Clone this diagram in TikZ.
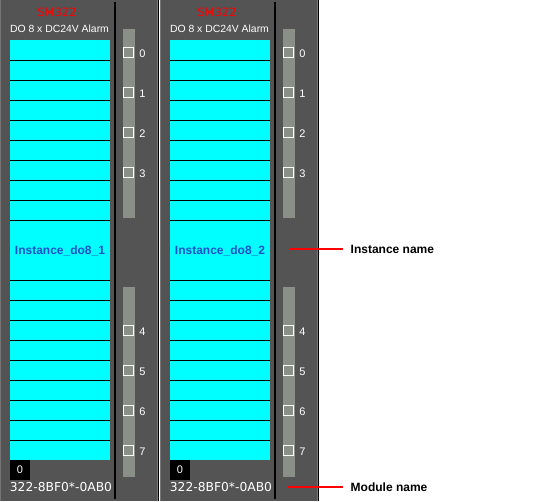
\documentclass[tikz,border=0pt]{standalone}
\usepackage{fontspec}
\setmainfont{Liberation Sans}
\newfontfamily\dejavu{DejaVu Sans}
\definecolor{modbg}{HTML}{545454}
\definecolor{stripgray}{HTML}{8A9088}
\definecolor{instblue}{HTML}{1E50C8}
\definecolor{edgelight}{HTML}{767676}
\definecolor{rowcyan}{HTML}{00FFFF}
\definecolor{pured}{HTML}{FF0000}
\tikzset{
  modtitle/.style={text=pured, inner sep=0pt, font=\dejavu\fontsize{11.5}{12}\selectfont},
  moddesc/.style={text=white, inner sep=0pt, font=\fontsize{10.4}{11}\selectfont},
  instname/.style={text=instblue, inner sep=0pt, anchor=base, font=\bfseries\fontsize{12}{13}\selectfont},
  chnum/.style={text=white, inner sep=0pt, anchor=base, font=\fontsize{11}{12}\selectfont},
  partno/.style={text=white, inner sep=0pt, anchor=base, font=\dejavu\fontsize{12.3}{13}\selectfont},
  slotbox/.style={fill=black, text=white, minimum width=20pt, minimum height=20pt, inner sep=0pt, font=\fontsize{11}{12}\selectfont},
  chkbox/.style={draw=white, line width=1.1pt, minimum width=10pt, minimum height=9.5pt, inner sep=0pt},
  callout/.style={anchor=west, inner xsep=7.5pt, inner ysep=0pt, font=\bfseries\fontsize{12}{13}\selectfont},
  redline/.style={draw=pured, line width=2pt}
}
\begin{document}
\begin{tikzpicture}[x=1pt,y=-1pt]
\useasboundingbox (0,0) rectangle (549,501);
\fill[white] (0,0) rectangle (549,501);
\foreach \o/\i in {0/1,160/2}{
  % module body
  \fill[modbg] (\o,0) rectangle (\o+159.4,501);
  \draw[edgelight, line width=1pt] (\o+0.5,0) -- (\o+0.5,501);
  \draw[edgelight, line width=1pt] (\o+157.5,0) -- (\o+157.5,501);
  \draw[black, line width=1.3pt] (\o+158.7,0) -- (\o+158.7,501);
  \draw[black, line width=2.2pt] (\o+114.6,2) -- (\o+114.6,499);
  % header
  \node[modtitle] (t\i) at (\o+57,12.5) {SM322};
  \node[moddesc] (d\i) at (\o+59.5,29) {DO 8 x DC24V Alarm};
  % channel rows
  \fill[rowcyan] (\o+10,40) rectangle (\o+110,460);
  \foreach \y in {60,80,...,220,280,300,...,440}{
    \draw[black, line width=1pt] (\o+10,\y) -- (\o+110,\y);
  }
  \node[instname] (n\i) at (\o+60,254) {Instance\_do8\_\i};
  % LED strips
  \fill[stripgray] (\o+122.7,29) rectangle (\o+135,218);
  \fill[stripgray] (\o+122.7,287) rectangle (\o+135,476.7);
  \foreach \k/\c in {0/52.5,1/92.5,2/132.5,3/172.5,4/330.5,5/370.5,6/410.5,7/450.5}{
    \node[chkbox] (b\i-\k) at (\o+128.8,\c) {};
    \node[chnum] (l\i-\k) at (\o+142.5,\c+4.8) {\k};
  }
  % slot and part number
  \node[slotbox] (s\i) at (\o+20,470) {0};
  \node[partno] (p\i) at (\o+61,491.7) {322-8BF0*-0AB0};
}
% callouts
\coordinate (ci) at (290,249);
\coordinate (cm) at (288,487);
\node[callout] (linst) at (343,249) {Instance name};
\node[callout] (lmod) at (343,487) {Module name};
\draw[redline] (ci) -- (linst.west);
\draw[redline] (cm) -- (lmod.west);
\end{tikzpicture}
\end{document}
